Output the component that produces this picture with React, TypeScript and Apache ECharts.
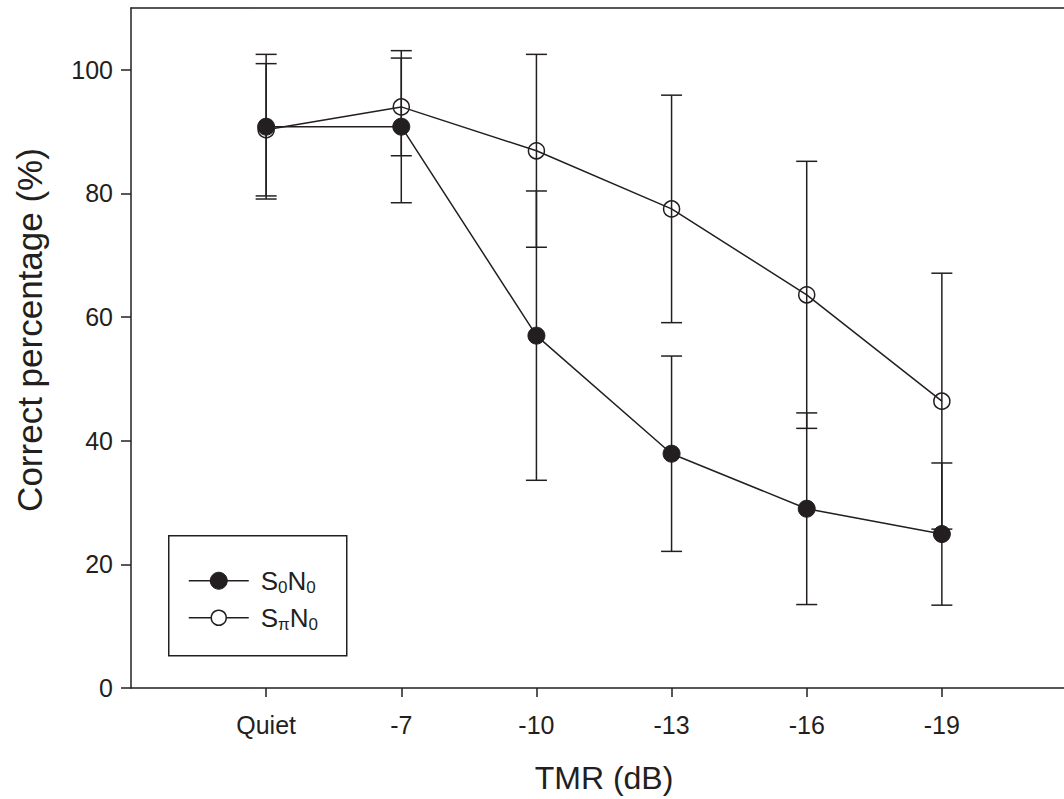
import React, { useEffect, useRef } from "react";
import * as echarts from "echarts";

const categories = ["Quiet", "-7", "-10", "-13", "-16", "-19"];
const s0n0Mean = [90.8, 90.8, 57.0, 37.9, 29.0, 24.9];
const s0n0Err = [11.7, 12.3, 23.4, 15.8, 15.5, 11.5];
const spiN0Mean = [90.3, 94.0, 86.9, 77.5, 63.6, 46.4];
const spiN0Err = [10.7, 7.9, 15.6, 18.4, 21.6, 20.7];
const yTicks = [0, 20, 40, 60, 80, 100];
const xTicks = [1, 2, 3, 4, 5, 6];

const INK = "#231f20";
const FONT = "Liberation Sans, Arial, sans-serif";

function errData(mean: number[], err: number[]) {
  return mean.map((m, i) => [i + 1, m - err[i], m + err[i]]);
}
function pts(mean: number[]) {
  return mean.map((m, i) => [i + 1, m]);
}

const errRender = (params: any, api: any) => {
  const x = api.value(0);
  const lo = api.coord([x, api.value(1)]);
  const hi = api.coord([x, api.value(2)]);
  const hw = 10.5;
  const st = { stroke: INK, lineWidth: 1.5 };
  return {
    type: "group",
    children: [
      { type: "line", shape: { x1: lo[0], y1: lo[1], x2: hi[0], y2: hi[1] }, style: st },
      { type: "line", shape: { x1: hi[0] - hw, y1: hi[1], x2: hi[0] + hw, y2: hi[1] }, style: st },
      { type: "line", shape: { x1: lo[0] - hw, y1: lo[1], x2: lo[0] + hw, y2: lo[1] }, style: st },
    ],
  };
};

const legendRich = {
  n: { fontSize: 26, fontFamily: FONT, color: INK, lineHeight: 30 },
  s: { fontSize: 17, fontFamily: FONT, color: INK, lineHeight: 30, verticalAlign: "bottom" },
};

export default function App() {
  const ref = useRef<HTMLDivElement>(null);
  useEffect(() => {
    document.body.style.margin = "0";
    const chart = echarts.init(ref.current!, null, { renderer: "svg" });
    const legendX = 168;
    const legendY = 535;
    chart.setOption({
      animation: false,
      backgroundColor: "#ffffff",
      textStyle: { fontFamily: FONT, color: INK },
      grid: { left: 131, right: 13, top: 8, bottom: 111, containLabel: false },
      xAxis: [
        {
          type: "value",
          min: 0,
          max: 7,
          position: "bottom",
          name: "TMR (dB)",
          nameLocation: "middle",
          nameGap: 74,
          nameTextStyle: { fontSize: 32, color: INK, fontFamily: FONT },
          axisLine: { show: true, onZero: false, lineStyle: { color: INK, width: 1.5 } },
          axisTick: { show: true, length: 9, customValues: xTicks, lineStyle: { color: INK, width: 1.5 } },
          axisLabel: {
            customValues: xTicks,
            formatter: (v: number) => categories[Math.round(v) - 1] ?? "",
            fontSize: 25,
            color: INK,
            fontFamily: FONT,
            margin: 24,
          },
          splitLine: { show: false },
        },
        {
          type: "value",
          min: 0,
          max: 7,
          position: "top",
          axisLine: { show: true, onZero: false, lineStyle: { color: INK, width: 1.5 } },
          axisTick: { show: false },
          axisLabel: { show: false },
          splitLine: { show: false },
        },
      ],
      yAxis: {
        type: "value",
        min: 0,
        max: 110,
        axisLine: { show: true, lineStyle: { color: INK, width: 1.5 } },
        axisTick: { show: true, length: 10, customValues: yTicks, lineStyle: { color: INK, width: 1.5 } },
        axisLabel: { customValues: yTicks, fontSize: 25, color: INK, fontFamily: FONT, margin: 18 },
        splitLine: { show: false },
      },
      series: [
        {
          type: "custom",
          name: "errSpi",
          xAxisIndex: 0,
          renderItem: errRender,
          encode: { x: 0, y: [1, 2] },
          data: errData(spiN0Mean, spiN0Err),
          z: 1,
        },
        {
          type: "custom",
          name: "errS0",
          xAxisIndex: 0,
          renderItem: errRender,
          encode: { x: 0, y: [1, 2] },
          data: errData(s0n0Mean, s0n0Err),
          z: 1,
        },
        {
          type: "line",
          name: "SπN0",
          xAxisIndex: 0,
          data: pts(spiN0Mean),
          symbol: "circle",
          symbolSize: 16,
          lineStyle: { color: INK, width: 1.5 },
          itemStyle: { color: "rgba(0,0,0,0)", borderColor: INK, borderWidth: 1.5 },
          z: 2,
        },
        {
          type: "line",
          name: "S0N0",
          xAxisIndex: 0,
          data: pts(s0n0Mean),
          symbol: "circle",
          symbolSize: 17,
          lineStyle: { color: INK, width: 1.5 },
          itemStyle: { color: INK, borderColor: INK, borderWidth: 1 },
          z: 3,
        },
      ],
      graphic: [
        {
          type: "text",
          x: 29,
          y: 330,
          rotation: Math.PI / 2,
          style: {
            text: "Correct percentage (%)",
            align: "center",
            verticalAlign: "middle",
            fontSize: 35,
            fontFamily: FONT,
            fill: INK,
          },
        },
        {
          type: "group",
          left: legendX,
          top: legendY,
          children: [
            {
              type: "rect",
              shape: { x: 0, y: 0, width: 178, height: 120 },
              style: { fill: "#ffffff", stroke: INK, lineWidth: 1.5 },
            },
            { type: "line", shape: { x1: 20, y1: 45, x2: 80, y2: 45 }, style: { stroke: INK, lineWidth: 1.5 } },
            { type: "circle", shape: { cx: 50, cy: 45, r: 8.5 }, style: { fill: INK, stroke: INK, lineWidth: 1 } },
            { type: "line", shape: { x1: 20, y1: 82, x2: 80, y2: 82 }, style: { stroke: INK, lineWidth: 1.5 } },
            { type: "circle", shape: { cx: 50, cy: 82, r: 7.5 }, style: { fill: "#ffffff", stroke: INK, lineWidth: 1.5 } },
            {
              type: "text",
              x: 92,
              y: 45,
              style: {
                text: "{n|S}{s|0}{n|N}{s|0}",
                verticalAlign: "middle",
                fill: INK,
                fontFamily: FONT,
                rich: legendRich,
              },
            },
            {
              type: "text",
              x: 92,
              y: 82,
              style: {
                text: "{n|S}{s|π}{n|N}{s|0}",
                verticalAlign: "middle",
                fill: INK,
                fontFamily: FONT,
                rich: legendRich,
              },
            },
          ],
        },
      ],
    });
    return () => chart.dispose();
  }, []);
  return (
    <div style={{ width: 1064, height: 799, overflow: "hidden", position: "relative" }}>
      <div ref={ref} style={{ width: 1090, height: 799 }} />
    </div>
  );
}
